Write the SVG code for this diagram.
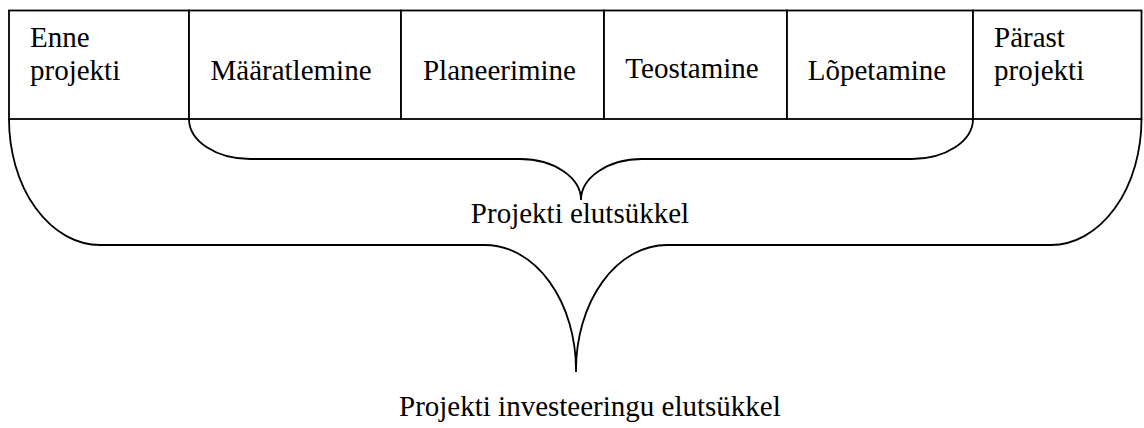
<svg xmlns="http://www.w3.org/2000/svg" width="1144" height="428" viewBox="0 0 1144 428">
<style>
.cell{fill:#fff;stroke:#000;stroke-width:1.8}
.t{font-family:"Liberation Serif","Times New Roman",serif;font-size:29px;fill:#000}
.m{text-anchor:middle}
.brace{fill:none;stroke:#000;stroke-width:1.8}
</style>
<rect width="1144" height="428" fill="#fff"/>
<g id="enne">
<rect class="cell" x="9" y="10.5" width="180" height="108.5"/>
<text class="t" x="30" y="47">Enne</text>
<text class="t" x="30" y="80">projekti</text>
</g>
<g id="maaratlemine">
<rect class="cell" x="189" y="10.5" width="212" height="108.5"/>
<text class="t m" x="291" y="80">Määratlemine</text>
</g>
<g id="planeerimine">
<rect class="cell" x="401" y="10.5" width="203" height="108.5"/>
<text class="t m" x="499.5" y="80">Planeerimine</text>
</g>
<g id="teostamine">
<rect class="cell" x="604" y="10.5" width="183" height="108.5"/>
<text class="t m" x="692" y="78">Teostamine</text>
</g>
<g id="lopetamine">
<rect class="cell" x="787" y="10.5" width="186" height="108.5"/>
<text class="t m" x="877" y="80">Lõpetamine</text>
</g>
<g id="parast">
<rect class="cell" x="973" y="10.5" width="168.5" height="108.5"/>
<text class="t" x="994" y="47">Pärast</text>
<text class="t" x="994" y="80">projekti</text>
</g>
<g id="connectors">
<path class="brace" d="M189,119 A61 40 0 0 0 250,159 L520,159 A61 41 0 0 1 581,200 A61 41 0 0 1 642,159 L912,159 A61 40 0 0 0 973,119"/>
<path class="brace" d="M9,119 A91 126 0 0 0 100,245 L485,245 A91 125 0 0 1 576,370 L576,372 M576,370 A91 125 0 0 1 667,245 L1051,245 A90.5 126 0 0 0 1141.5,119"/>
</g>
<g id="labels">
<text class="t m" x="580" y="223">Projekti elutsükkel</text>
<text class="t" x="399" y="416">Projekti investeeringu elutsükkel</text>
</g>
</svg>
